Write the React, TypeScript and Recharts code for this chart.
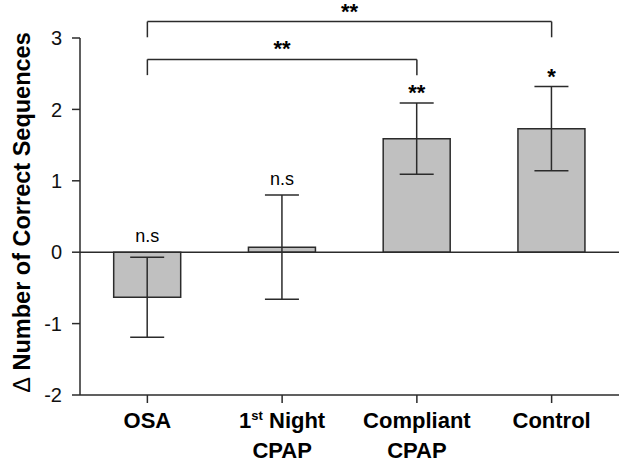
import React from 'react';
import {
  BarChart,
  Bar,
  XAxis,
  YAxis,
  ErrorBar,
  ReferenceLine,
  ReferenceDot,
} from 'recharts';

const groups = ['OSA', '1st Night\nCPAP', 'Compliant\nCPAP', 'Control'];
const means = [-0.63, 0.07, 1.59, 1.73];
const sems = [0.56, 0.73, 0.5, 0.59];
const marks = ['n.s', 'n.s', '**', '*'];
const yTicks = [-2, -1, 0, 1, 2, 3];

// significance brackets between groups
const brackets = [
  { from: 0, to: 3, top: 3.23, foot: 3.01, mark: '**' },
  { from: 0, to: 2, top: 2.7, foot: 2.48, mark: '**' },
];

const INK = '#2b2b2b';

const data = groups.map((g, i) => ({ group: g, mean: means[i], err: sems[i] }));

function GroupTick({ x, y, payload }: any) {
  const lines: string[] = String(payload.value).split('\n');
  return (
    <g transform={`translate(${x},${y})`}>
      <text
        textAnchor="middle"
        fontFamily="'Liberation Sans', Arial, sans-serif"
        fontWeight="bold"
        fontSize={22}
        fill="#000"
      >
        {lines.map((line, i) => {
          const m = line.match(/^(\d)(st|nd|rd|th)(.*)$/);
          return (
            <tspan key={i} x={0} y={23 + i * 30}>
              {m ? (
                <>
                  {m[1]}
                  <tspan fontSize={13} dy={-8}>{m[2]}</tspan>
                  <tspan dy={8}>{m[3]}</tspan>
                </>
              ) : (
                line
              )}
            </tspan>
          );
        })}
      </text>
    </g>
  );
}

function YTitle({ viewBox }: any) {
  const cx = 22;
  const cy = viewBox.y + viewBox.height / 2 - 4;
  return (
    <text
      x={cx}
      y={cy}
      transform={`rotate(-90 ${cx} ${cy})`}
      textAnchor="middle"
      dominantBaseline="central"
      fontFamily="'Liberation Sans', Arial, sans-serif"
      fontWeight="bold"
      fontSize={23.5}
      fill="#000"
    >
      <tspan fontWeight="normal">Δ</tspan> Number of Correct Sequences
    </text>
  );
}

function markLabel(text: string) {
  return ({ viewBox }: any) => {
    const cx = viewBox.x + (viewBox.width || 0) / 2;
    const isStar = text.includes('*');
    return (
      <text
        x={cx}
        y={viewBox.y + (isStar ? -3 : -10)}
        textAnchor="middle"
        fontFamily="'Liberation Sans', Arial, sans-serif"
        fontWeight={isStar ? 'bold' : 'normal'}
        fontSize={isStar ? 22 : 18}
        fill="#000"
      >
        {text}
      </text>
    );
  };
}

export default function App() {
  return (
    <div style={{ position: 'absolute', left: 0, top: 0, background: '#fff' }}>
      <BarChart
        width={621}
        height={470}
        data={data}
        margin={{ top: 38, right: 2, left: 0, bottom: 0 }}
        barCategoryGap="25%"
      >
        <XAxis
          dataKey="group"
          interval={0}
          height={75}
          tickSize={8}
          axisLine={{ stroke: INK, strokeWidth: 1.5 }}
          tickLine={{ stroke: INK, strokeWidth: 1.5 }}
          tick={<GroupTick />}
        />
        <YAxis
          width={80}
          domain={[-2, 3]}
          ticks={yTicks}
          tickSize={8}
          tickMargin={10}
          axisLine={{ stroke: INK, strokeWidth: 1.5 }}
          tickLine={{ stroke: INK, strokeWidth: 1.5 }}
          tick={{
            fill: '#111',
            fontSize: 20,
            fontFamily: "'Liberation Sans Narrow', 'Liberation Sans', Arial, sans-serif",
          }}
          label={<YTitle />}
        />
        <Bar
          dataKey="mean"
          fill="#c0c0c0"
          stroke={INK}
          strokeWidth={1.5}
          isAnimationActive={false}
        >
          <ErrorBar dataKey="err" width={17} stroke={INK} strokeWidth={1.5} />
        </Bar>
        <ReferenceLine y={0} stroke={INK} strokeWidth={1.5} />
        {data.map((d, i) => (
          <ReferenceDot
            key={`m-${i}`}
            x={d.group}
            y={Math.max(0, d.mean + d.err)}
            r={0}
            fill="none"
            stroke="none"
            label={markLabel(marks[i])}
          />
        ))}
        {brackets.map((b, i) => (
          <React.Fragment key={`b-${i}`}>
            <ReferenceLine
              segment={[
                { x: groups[b.from], y: b.top },
                { x: groups[b.to], y: b.top },
              ]}
              ifOverflow="visible"
              stroke={INK}
              strokeWidth={1.5}
              label={markLabel(b.mark)}
            />
            <ReferenceLine
              segment={[
                { x: groups[b.from], y: b.top },
                { x: groups[b.from], y: b.foot },
              ]}
              ifOverflow="visible"
              stroke={INK}
              strokeWidth={1.5}
            />
            <ReferenceLine
              segment={[
                { x: groups[b.to], y: b.top },
                { x: groups[b.to], y: b.foot },
              ]}
              ifOverflow="visible"
              stroke={INK}
              strokeWidth={1.5}
            />
          </React.Fragment>
        ))}
      </BarChart>
    </div>
  );
}
